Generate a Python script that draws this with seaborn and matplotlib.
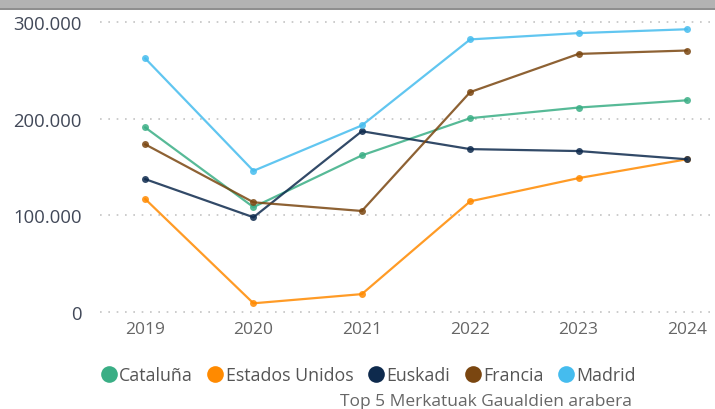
import pandas as pd
import matplotlib.pyplot as plt
import seaborn as sns
from matplotlib.lines import Line2D
from matplotlib.patches import Rectangle

# datos
years = [2019, 2020, 2021, 2022, 2023, 2024]
cataluna = [191000, 108500, 162000, 200500, 211500, 219000]
estados_unidos = [117000, 9000, 18500, 114500, 138500, 158000]
euskadi = [137500, 98000, 187000, 168500, 166500, 158000]
francia = [173500, 113500, 104500, 227500, 267000, 270500]
madrid = [262500, 146000, 193000, 282000, 288500, 292500]

series_names = ["Cataluña", "Estados Unidos", "Euskadi", "Francia", "Madrid"]
series_vals = [cataluna, estados_unidos, euskadi, francia, madrid]
colors = ["#3aae85", "#ff8a00", "#0e2a4d", "#7a4610", "#45bcee"]
ytick_vals = [0, 100000, 200000, 300000]
ytick_labels = ["0", "100.000", "200.000", "300.000"]

df = pd.DataFrame(
    [(y, v, n) for n, vals in zip(series_names, series_vals) for y, v in zip(years, vals)],
    columns=["year", "value", "serie"],
)

sns.set_theme(style="white")
plt.rcParams["font.family"] = ["Open Sans", "DejaVu Sans"]

fig = plt.figure(figsize=(7.15, 4.1), dpi=100)
W, H = 715, 410

# barra gris superior
fig.patches.append(Rectangle((0, 1 - 9 / H), 1, 9 / H, transform=fig.transFigure,
                             facecolor="#b3b3b3", edgecolor="none", zorder=0))
fig.patches.append(Rectangle((0, 1 - 10.5 / H), 1, 1.5 / H, transform=fig.transFigure,
                             facecolor="#8f8f8f", edgecolor="none", zorder=0))

# eje: 0 en y=313 px, 300.000 en y=23 px
ax = fig.add_axes([100 / W, (H - 319) / H, (W - 100) / W, (319 - 15) / H])

palette = dict(zip(series_names, colors))
sns.lineplot(data=df, x="year", y="value", hue="serie", palette=palette,
             marker="o", markersize=5, markeredgewidth=0, linewidth=1.6,
             alpha=0.85, legend=False, ax=ax)

ax.set_xlim(2019 - 45 / 108.2, 2024 + 28 / 108.2)
ax.set_ylim(-6 * 1034.5, 300000 + 8 * 1034.5)
ax.set_yticks(ytick_vals)
ax.set_yticklabels(ytick_labels)
ax.set_xticks(years)
ax.set_xticklabels([str(y) for y in years])
ax.tick_params(axis="y", labelsize=13.3, labelcolor="#414858", pad=13, length=0)
ax.tick_params(axis="x", labelsize=12.5, labelcolor="#666666", pad=2, length=0)
ax.set_xlabel("")
ax.set_ylabel("")
ax.grid(axis="y", linestyle=(0, (1, 4)), color="#c4c4c4", linewidth=1.2)
ax.grid(axis="x", visible=False)
for s in ax.spines.values():
    s.set_visible(False)
ax.set_facecolor("none")

handles = [Line2D([0], [0], marker="o", linestyle="none", markersize=12,
                  markerfacecolor=c, markeredgewidth=0) for c in colors]
fig.legend(handles, series_names, loc="center", bbox_to_anchor=(368 / W, 1 - 376 / H),
           ncol=5, frameon=False, handletextpad=0.1, columnspacing=0.75,
           handlelength=1.0, fontsize=12.8, labelcolor="#555555",
           borderpad=0, borderaxespad=0)

fig.text(632 / W, 1 - 402 / H, "Top 5 Merkatuak Gaualdien arabera",
         fontsize=12.5, color="#666666", ha="right", va="center")

fig.savefig("out.png", dpi=100)
